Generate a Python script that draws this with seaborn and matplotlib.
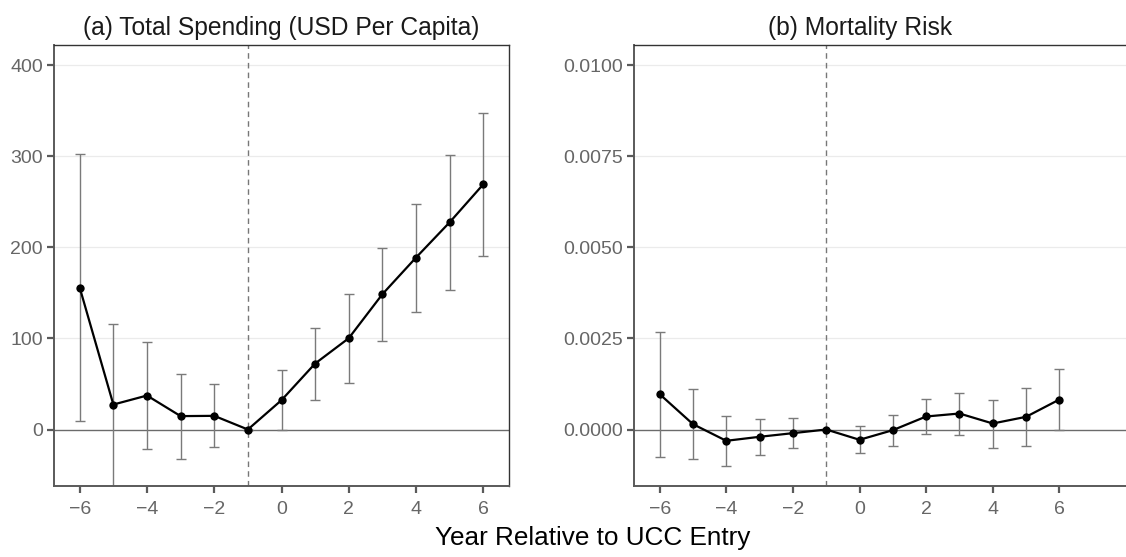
import numpy as np
import pandas as pd
import matplotlib
matplotlib.use("Agg")
import matplotlib.pyplot as plt
import seaborn as sns

# Event-study estimates by year relative to UCC entry
years = [-6, -5, -4, -3, -2, -1, 0, 1, 2, 3, 4, 5, 6]

spend_est = [155.7, 27.4, 37.3, 14.7, 15.0, 0.0, 32.2, 72.4, 100.2, 148.5, 188.7, 227.4, 269.1]
spend_lo = [8.8, -70.0, -21.9, -32.5, -19.0, 0.0, 0.0, 32.9, 51.5, 97.3, 128.7, 153.5, 190.2]
spend_hi = [302.0, 115.9, 96.5, 61.4, 49.4, 0.0, 65.1, 111.5, 148.5, 199.3, 247.9, 301.3, 347.3]

mort_est = [0.000970, 0.000147, -0.000310, -0.000200, -0.000100, 0.0, -0.000282,
            -0.000018, 0.000357, 0.000439, 0.000165, 0.000348, 0.000823]
mort_lo = [-0.000749, -0.000822, -0.001004, -0.000694, -0.000521, 0.0, -0.000639,
           -0.000455, -0.000118, -0.000145, -0.000502, -0.000455, -0.000027]
mort_hi = [0.002687, 0.001116, 0.000384, 0.000285, 0.000329, 0.0, 0.000093,
           0.000411, 0.000833, 0.001015, 0.000823, 0.001143, 0.001673]

panel_titles = ["(a) Total Spending (USD Per Capita)", "(b) Mortality Risk"]
x_label = "Year Relative to UCC Entry"
x_ticks = [-6, -4, -2, 0, 2, 4, 6]
spend_ticks = [0, 100, 200, 300, 400]
mort_ticks = [0.0, 0.0025, 0.0050, 0.0075, 0.0100]

sns.set_theme(style="white")
plt.rcParams["font.family"] = ["Liberation Sans", "DejaVu Sans"]

fig = plt.figure(figsize=(11.26, 5.57), dpi=100)
W, H = 1126, 557
ax_a = fig.add_axes([54 / W, 1 - 486 / H, (509 - 54) / W, (486 - 45) / H])
ax_b = fig.add_axes([634 / W, 1 - 486 / H, (W - 634) / W, (486 - 45) / H])

tick_col = "#5a5a5a"
border_col = "#333333"


def draw_panel(ax, est, lo, hi, ylim, yticks, yfmt, xlim, title, title_x):
    df = pd.DataFrame({"year": years, "est": est, "lo": lo, "hi": hi})
    for y in yticks:
        if y != 0:
            ax.axhline(y, color="#ebebeb", lw=0.9, zorder=0)
    ax.axhline(0, color="#6b6b6b", lw=1.0, zorder=1)
    ax.axvline(-1, color="#777777", lw=1.0, ls=(0, (4, 3)), zorder=1)
    ax.errorbar(df["year"], df["est"],
                yerr=[df["est"] - df["lo"], df["hi"] - df["est"]],
                fmt="none", ecolor="#7a7a7a", elinewidth=1.0, capsize=3.7,
                capthick=1.0, zorder=2)
    sns.lineplot(data=df, x="year", y="est", ax=ax, color="black", lw=1.6,
                 marker="o", markersize=6, markeredgewidth=0, zorder=3)
    ax.set_xlim(*xlim)
    ax.set_ylim(*ylim)
    ax.set_xticks(x_ticks)
    ax.set_xticklabels([str(t).replace("-", "\u2212") for t in x_ticks])
    ax.set_yticks(yticks)
    ax.set_yticklabels([yfmt.format(t) for t in yticks])
    ax.set_xlabel("")
    ax.set_ylabel("")
    ax.tick_params(axis="both", which="major", length=5, width=1.6,
                   color=tick_col, labelcolor="#666666", labelsize=14,
                   pad=3, bottom=True, left=True)
    ax.tick_params(axis="x", pad=6)
    for side in ["left", "bottom"]:
        ax.spines[side].set_color(tick_col)
        ax.spines[side].set_linewidth(1.4)
    for side in ["top", "right"]:
        ax.spines[side].set_color(border_col)
        ax.spines[side].set_linewidth(1.0)
    ax.set_title(title, fontsize=17.7, color="#1a1a1a", x=title_x, pad=7)


draw_panel(ax_a, spend_est, spend_lo, spend_hi, (-62, 422), spend_ticks, "{:.0f}",
           (-6.765, 6.765), panel_titles[0], 0.5)
draw_panel(ax_b, mort_est, mort_lo, mort_hi, (-0.00155, 0.01055), mort_ticks, "{:.4f}",
           (-6.77, 8.0), panel_titles[1], 226 / 492)
ax_b.spines["right"].set_visible(False)

fig.text(593 / W, 1 - 538 / H, x_label, ha="center", va="center",
         fontsize=18.8, color="black")

fig.savefig("out.png", dpi=100)
